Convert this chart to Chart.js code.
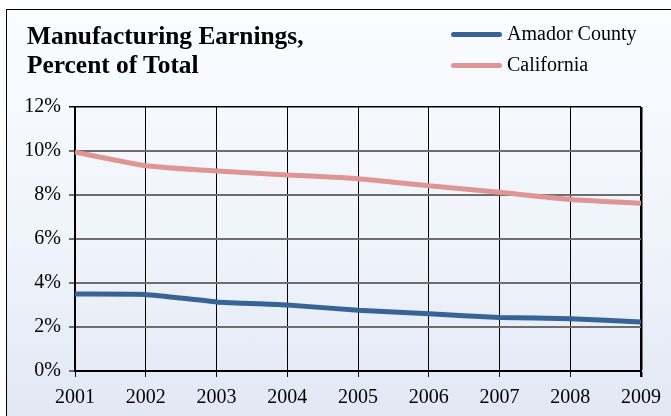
<!DOCTYPE html>
<html>
<head>
<meta charset="utf-8">
<script src="https://cdn.jsdelivr.net/npm/chart.js@4"></script>
<style>
  html, body { margin: 0; padding: 0; background: #ffffff; width: 671px; height: 416px; overflow: hidden; }
  #frame { position: absolute; left: 6px; top: 9px; width: 700px; height: 440px;
           border: 1.5px solid #000; box-sizing: border-box;
           background: linear-gradient(to bottom, #fafcff 0%, #f0f4fb 50%, #dfe6f3 100%); }
  #wrap { position: absolute; left: 0; top: 0; width: 671px; height: 416px; }
  #title { position: absolute; left: 27px; top: 21px; font-family: "Liberation Serif", "Times New Roman", serif;
           font-weight: bold; font-size: 25.4px; line-height: 29px; color: #000; }
  .leg { position: absolute; left: 451px; font-family: "Liberation Serif", "Times New Roman", serif;
         font-size: 20px; color: #000; height: 24px; line-height: 24px; }
  .leg span.sw { display: inline-block; width: 51px; height: 5px; border-radius: 3px; vertical-align: middle; margin-right: 5px; position: relative; top: -1px; }
</style>
</head>
<body>
<div id="frame"></div>
<div id="wrap"><canvas id="c" width="671" height="416"></canvas></div>
<div id="title">Manufacturing Earnings,<br>Percent of Total</div>
<div class="leg" id="leg0" style="top:21px"></div>
<div class="leg" id="leg1" style="top:52px"></div>
<script>
const years = ["2001","2002","2003","2004","2005","2006","2007","2008","2009"];
const amadorCounty = [3.50, 3.48, 3.14, 3.00, 2.76, 2.60, 2.43, 2.38, 2.23];
const california = [9.95, 9.33, 9.09, 8.91, 8.74, 8.42, 8.12, 7.80, 7.62];
const seriesNames = ["Amador County", "California"];
const seriesColors = ["#386396", "#dd9694"];
const yTicks = [0, 2, 4, 6, 8, 10, 12];

[0,1].forEach(i => {
  const el = document.getElementById('leg' + i);
  el.innerHTML = '<span class="sw" style="background:' + seriesColors[i] + '"></span>' + seriesNames[i];
});

const serif = '"Liberation Serif", "Times New Roman", serif';
new Chart(document.getElementById('c'), {
  type: 'line',
  data: {
    labels: years,
    datasets: [
      { label: seriesNames[0], data: amadorCounty, borderColor: seriesColors[0], borderWidth: 5, pointRadius: 0, tension: 0.15, fill: false },
      { label: seriesNames[1], data: california, borderColor: seriesColors[1], borderWidth: 5, pointRadius: 0, tension: 0.15, fill: false }
    ]
  },
  options: {
    responsive: false,
    animation: false,
    events: [],
    layout: { padding: { top: 107, right: 30, left: 0, bottom: 0 } },
    plugins: { legend: { display: false }, title: { display: false }, tooltip: { enabled: false } },
    scales: {
      x: {
        offset: false,
        afterFit: s => { s.height = 45; },
        border: { color: '#000', width: 2 },
        grid: {
          color: '#000',
          lineWidth: ctx => (ctx.index === years.length - 1 ? 2.5 : 1),
          tickLength: 6,
          drawTicks: true
        },
        ticks: { color: '#000', font: { family: serif, size: 20 }, padding: 9, maxRotation: 0, autoSkip: false }
      },
      y: {
        min: 0, max: 12,
        afterFit: s => { s.width = 75; },
        afterBuildTicks: s => { s.ticks = yTicks.map(v => ({ value: v })); },
        border: { color: '#000', width: 2 },
        grid: {
          color: ctx => (ctx.tick && ctx.tick.value === 12 ? '#000' : '#6e6e6e'),
          lineWidth: ctx => (ctx.tick && ctx.tick.value === 12 ? 1.5 : 2),
          tickLength: 6
        },
        ticks: { color: '#000', font: { family: serif, size: 20 }, padding: 8, callback: v => v + '%' }
      }
    }
  }
});
</script>
</body>
</html>
